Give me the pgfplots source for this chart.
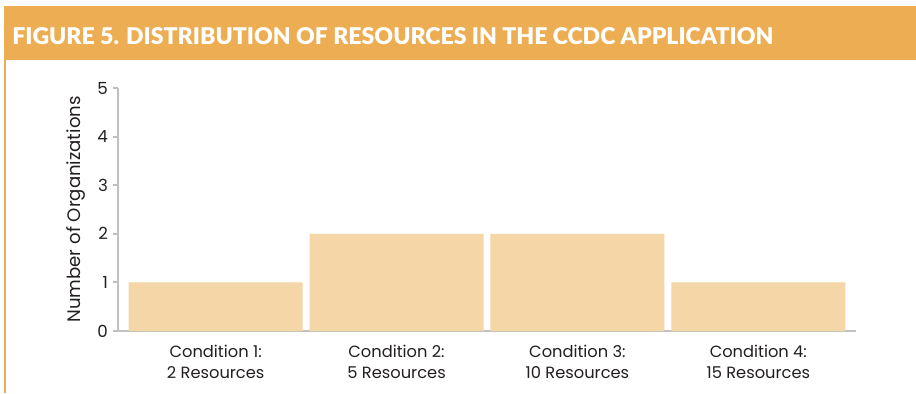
\documentclass[border=0pt]{standalone}
\usepackage{pgfplots}
\pgfplotsset{compat=1.18}
\usepackage{fontspec}
\setmainfont{Poppins}
\newfontfamily\headfont{Lato}[BoldFont={Lato Black}]
\definecolor{headorange}{RGB}{237,173,82}
\definecolor{barfill}{RGB}{245,214,167}
\definecolor{axgray}{RGB}{192,192,192}
\definecolor{txt}{RGB}{35,31,32}
\begin{document}
\begin{tikzpicture}
% canvas 916x393 px, 1px = 0.75pt
\fill[white] (0,0) rectangle (687pt,-294.75pt);
\fill[headorange] (3pt,-4.5pt) rectangle (687pt,-45pt);
\fill[headorange] (3pt,-45pt) rectangle (4.5pt,-294.75pt);
\node[anchor=base west, text=white, inner sep=0pt, font=\headfont\bfseries\fontsize{17.3}{20}\selectfont] at (9pt,-33.5pt) {FIGURE 5. DISTRIBUTION OF RESOURCES IN THE CCDC APPLICATION};
\begin{axis}[
  at={(88.5pt,-248.25pt)}, anchor=south west,
  scale only axis, width=553.5pt, height=182.25pt,
  xmin=-0.54, xmax=3.54, ymin=0, ymax=5,
  ybar, bar width=130.5pt,
  axis lines=left, axis line style={draw=axgray, line width=2.2pt, -},
  xtick=data, xticklabels={{Condition 1:\\2 Resources},{Condition 2:\\5 Resources},{Condition 3:\\10 Resources},{Condition 4:\\15 Resources}},
  x tick label style={align=center, font=\fontsize{12.2}{15.5}\selectfont, text=txt, yshift=-3pt},
  ytick={0,1,2,3,4,5},
  y tick label style={font=\fontsize{12.5}{14}\selectfont, text=txt},
  /pgf/number format/assume math mode=true,
  major tick length=4pt,
  xtick style={draw=none},
  ytick style={draw=axgray, line width=1.5pt},
  tick align=outside,
  ylabel={Number of Organizations},
  ylabel style={font=\fontsize{13.6}{15}\selectfont, text=txt, yshift=2pt},
  clip=false,
]
\addplot[fill=barfill, draw=none] coordinates {(0,1) (1,2) (2,2) (3,1)};
\end{axis}
\end{tikzpicture}
\end{document}
